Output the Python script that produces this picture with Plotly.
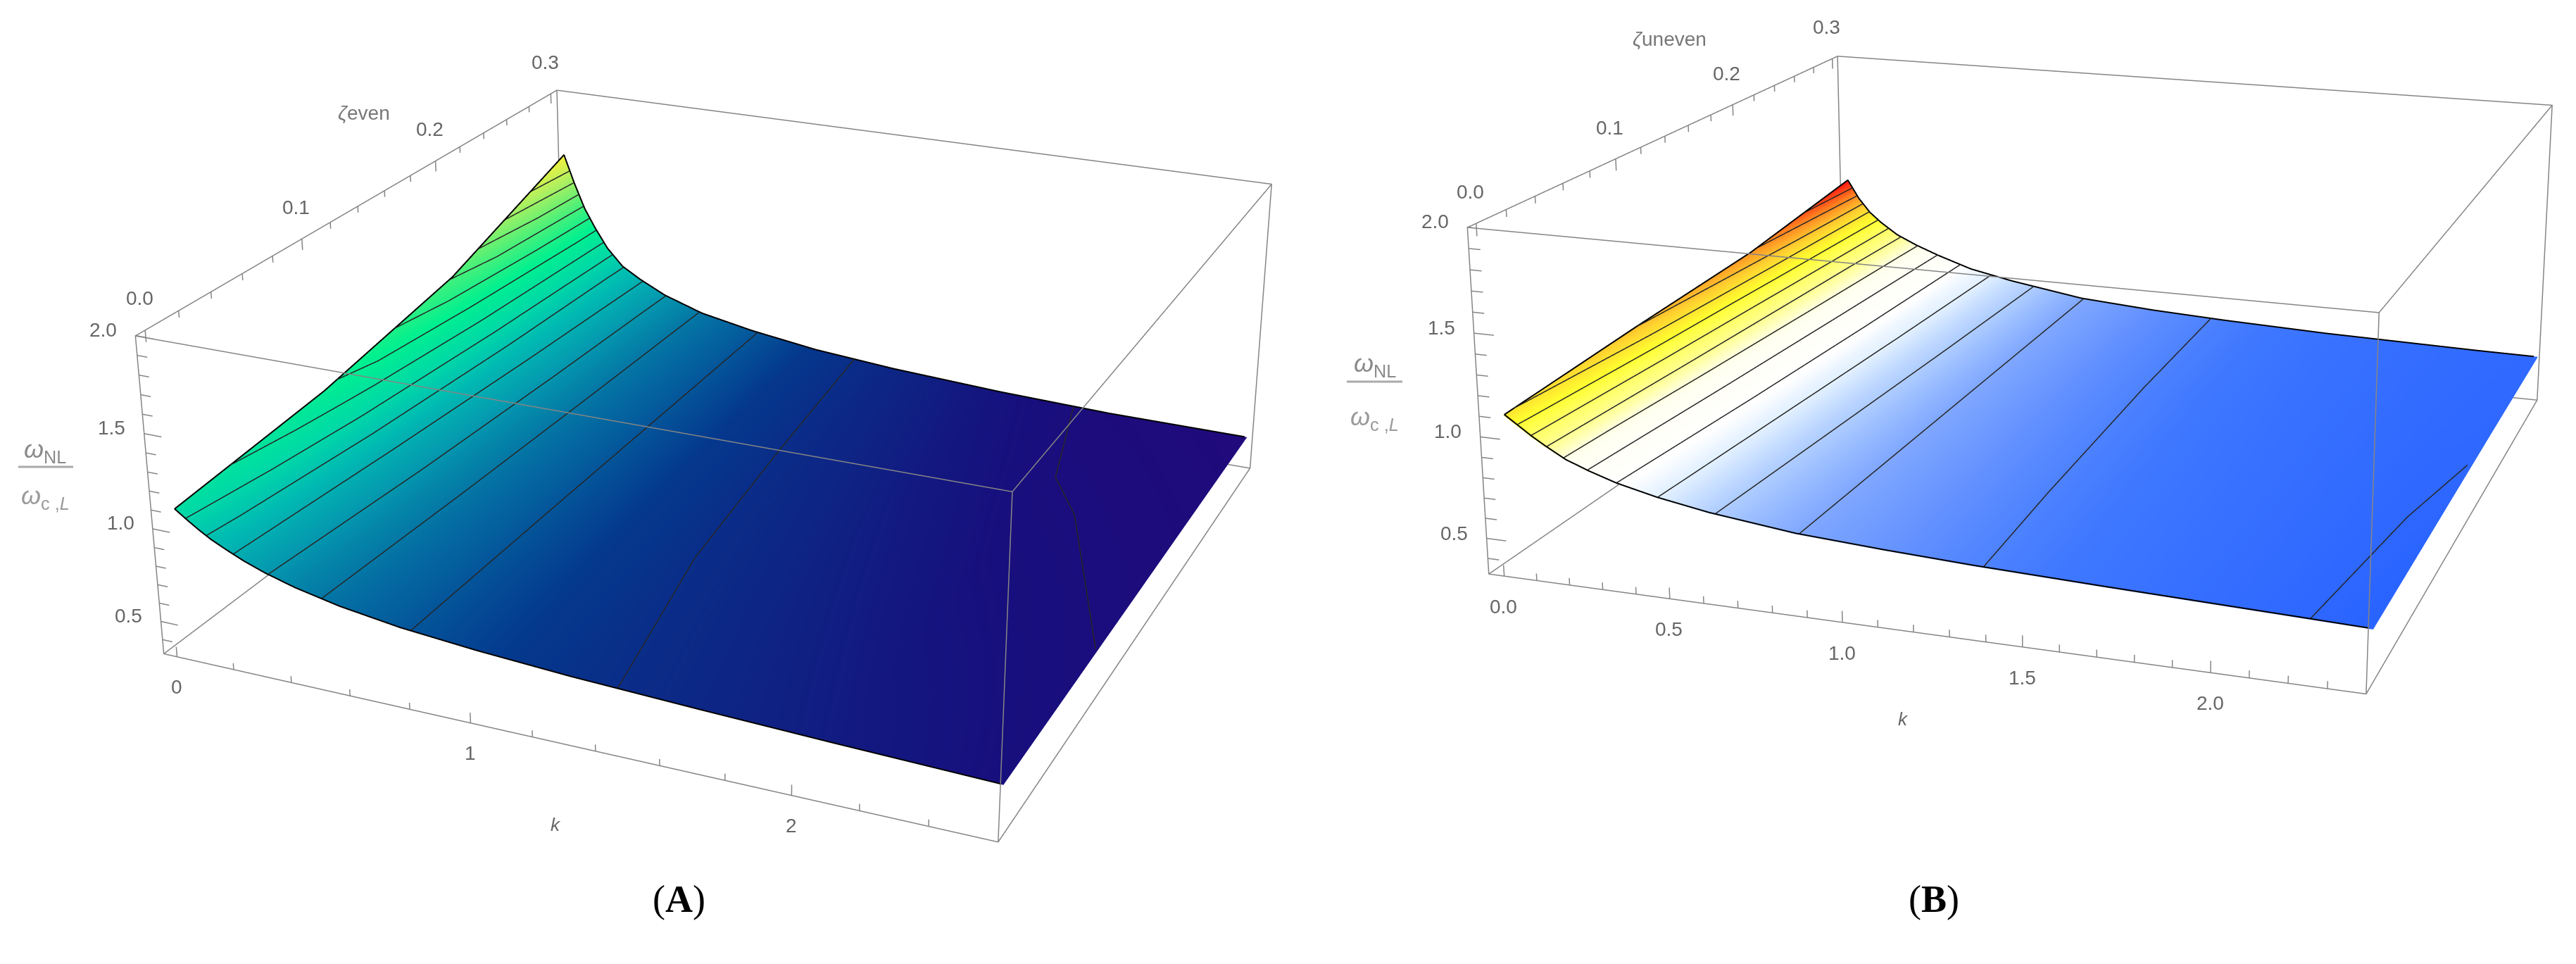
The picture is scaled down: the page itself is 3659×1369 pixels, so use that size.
"""Two 3D surfaces of the frequency ratio against k and zeta, panels (A) and (B)."""

import plotly.graph_objects as go

# ── Panel A values ────────────────────────────────────────────────────────────
k_a = [0, 0.04, 0.08, 0.12, 0.17, 0.23, 0.3, 0.4, 0.55, 0.75, 1, 1.3, 1.7, 2.1, 2.59]
zeta_a = [0, 0.1, 0.2, 0.3]
z_a_0 = [1.085, 1.04, 0.998, 0.96, 0.922, 0.88, 0.84, 0.795, 0.745, 0.70, 0.665, 0.635, 0.608, 0.585, 0.562]
z_a_1 = [1.17, 1.145, 1.095, 1.04, 0.975, 0.913, 0.865, 0.81, 0.75, 0.70, 0.658, 0.625, 0.595, 0.57, 0.555]
z_a_2 = [1.33, 1.27, 1.19, 1.12, 1.03, 0.947, 0.89, 0.824, 0.755, 0.70, 0.652, 0.615, 0.582, 0.558, 0.548]
z_a_3 = [1.63, 1.46, 1.31, 1.20, 1.08, 0.98, 0.915, 0.838, 0.76, 0.70, 0.645, 0.605, 0.57, 0.548, 0.541]
k_range_a = [-0.05, 2.6]
k_major_a = [0, 1, 2]
k_minor_a = [0.2, 0.4, 0.6, 0.8, 1.2, 1.4, 1.6, 1.8, 2.2, 2.4]
levels_a = [0.555, 0.625, 0.695, 0.765, 0.835, 0.905, 0.975, 1.045, 1.115, 1.185, 1.255, 1.325, 1.395, 1.465, 1.535]

# ── Panel B values ────────────────────────────────────────────────────────────
k_b = [0, 0.04, 0.08, 0.12, 0.18, 0.25, 0.33, 0.45, 0.6, 0.85, 1.1, 1.35, 1.7, 2.2, 2.4]
zeta_b = [0, 0.1, 0.2, 0.3]
z_b_0 = [1.09, 1.045, 1.00, 0.96, 0.905, 0.862, 0.82, 0.775, 0.733, 0.685, 0.66, 0.64, 0.62, 0.595, 0.585]
z_b_1 = [1.14, 1.088, 1.03, 0.985, 0.926, 0.88, 0.835, 0.783, 0.738, 0.685, 0.658, 0.638, 0.618, 0.597, 0.59]
z_b_2 = [1.18, 1.125, 1.06, 1.01, 0.947, 0.897, 0.85, 0.792, 0.744, 0.685, 0.656, 0.636, 0.616, 0.599, 0.595]
z_b_3 = [1.275, 1.169, 1.09, 1.035, 0.968, 0.915, 0.865, 0.80, 0.75, 0.685, 0.655, 0.635, 0.615, 0.60, 0.597]
k_range_b = [-0.05, 2.4]
k_major_b = [0, 0.5, 1, 1.5, 2]
k_minor_b = [0.1, 0.2, 0.3, 0.4, 0.6, 0.7, 0.8, 0.9, 1.1, 1.2, 1.3, 1.4, 1.6, 1.7, 1.8, 1.9, 2.1, 2.2, 2.3]
levels_b = [0.593, 0.6385, 0.684, 0.7295, 0.775, 0.8205, 0.866, 0.9115, 0.957, 1.0025, 1.048, 1.0935, 1.139, 1.1845, 1.23]

# ── Shared axis values ────────────────────────────────────────────────────────
zeta_range = [-0.006, 0.306]
z_range = [0.32, 2.0]
zeta_major = [0, 0.1, 0.2, 0.3]
zeta_minor = [0.02, 0.04, 0.06, 0.08, 0.12, 0.14, 0.16, 0.18, 0.22, 0.24, 0.26, 0.28]
z_major = [0.5, 1.0, 1.5, 2.0]
z_minor = [0.4, 0.6, 0.7, 0.8, 0.9, 1.1, 1.2, 1.3, 1.4, 1.6, 1.7, 1.8, 1.9]

colors_a = [
    [0.0, "#200a7c"], [0.02, "#170f7d"], [0.055, "#0e2484"], [0.106, "#043a8e"],
    [0.148, "#045a9c"], [0.2, "#0474a4"], [0.287, "#049cb0"], [0.38, "#00bdb2"],
    [0.47, "#00d8a8"], [0.61, "#00f090"], [0.75, "#50f078"], [0.89, "#b0f060"],
    [1.0, "#f0f040"],
]
colors_b = [
    [0.0, "#2a64ff"], [0.06, "#3f78ff"], [0.11, "#6a96ff"], [0.2, "#a8c8ff"],
    [0.27, "#e0efff"], [0.33, "#ffffff"], [0.46, "#fffff0"], [0.53, "#ffff99"],
    [0.68, "#ffff30"], [0.78, "#ffd030"], [0.89, "#ff8020"], [1.0, "#ff1010"],
]

eye_a = (1.267, -2.882, 1.344)
eye_b = (1.049, -3.047, 0.958)
aspect_a = (1.001, 1, 0.389)
aspect_b = (0.996, 1, 0.398)

WIN_H = 1369
FIG_W = 3800
FIG_H = 3500
TOP = 1200  # hidden strip above the window: the narrow lens needs a very tall scene
GRAY = "#858585"
TEXT = "#666666"
FONT = "Liberation Sans"


def px(x):
    return x / FIG_W


def py(y):
    return 1 - (y + TOP) / FIG_H


def scene_domain(cx, cy, half_w, half_h):
    return dict(x=[px(cx - half_w), px(cx + half_w)], y=[py(cy + half_h), py(cy - half_h)])


def inset(r):
    # 3D lines exactly on the axis range get clipped away, keep them just inside
    pad = (r[1] - r[0]) * 0.001
    return [r[0] + pad, r[1] - pad]


def box_path(kr):
    # one unbroken walk over all 12 edges
    k0, k1 = inset(kr)
    y0, y1 = inset(zeta_range)
    z0, z1 = inset(z_range)
    return [(k0, y0, z0), (k1, y0, z0), (k1, y1, z0), (k0, y1, z0), (k0, y0, z0),
            (k0, y0, z1), (k1, y0, z1), (k1, y1, z1), (k0, y1, z1), (k0, y0, z1),
            (k1, y0, z1), (k1, y0, z0), (k1, y1, z0), (k1, y1, z1), (k0, y1, z1), (k0, y1, z0)]


def tick_path(majors, minors, major_size, minor_size, point):
    path = []
    for t in sorted(majors + minors):
        size = major_size if t in majors else minor_size
        path += [point(t, 0), point(t, size), point(t, 0)]
    return path


def contour_path(ks, zetas, rows, level):
    # marching over the table cells, chained from the lowest zeta row upwards
    level = level + 1e-5  # a level equal to a table value would lose its cells
    segments = []
    for j in range(len(zetas) - 1):
        for i in range(len(ks) - 1):
            corners = [(ks[i], zetas[j], rows[j][i]), (ks[i + 1], zetas[j], rows[j][i + 1]),
                       (ks[i + 1], zetas[j + 1], rows[j + 1][i + 1]), (ks[i], zetas[j + 1], rows[j + 1][i])]
            cuts = []
            for a, b in zip(corners, corners[1:] + corners[:1]):
                if (a[2] - level) * (b[2] - level) < 0:
                    t = (level - a[2]) / (b[2] - a[2])
                    cuts.append((a[0] + t * (b[0] - a[0]), a[1] + t * (b[1] - a[1]), level))
            if len(cuts) == 2:
                segments.append(cuts)
    if not segments:
        return []
    first = min(segments, key=lambda s: min(s[0][1], s[1][1]))
    segments.remove(first)
    path = sorted(first, key=lambda p: p[1])
    while segments:
        seg = min(segments, key=lambda s: min(abs(s[0][0] - path[-1][0]) + abs(s[0][1] - path[-1][1]),
                                              abs(s[1][0] - path[-1][0]) + abs(s[1][1] - path[-1][1])))
        segments.remove(seg)
        d0 = abs(seg[0][0] - path[-1][0]) + abs(seg[0][1] - path[-1][1])
        d1 = abs(seg[1][0] - path[-1][0]) + abs(seg[1][1] - path[-1][1])
        path.append(seg[1] if d0 <= d1 else seg[0])
    return path


def toward_eye(path, kr, eye, aspect, amount=0.008):
    # slide a line along the view ray so it clears the surface without moving on screen
    ranges = (kr, zeta_range, z_range)
    eye_data = [(e / a + 0.5) * (r[1] - r[0]) + r[0] for e, a, r in zip(eye, aspect, ranges)]
    lows = [inset(r)[0] for r in ranges]
    highs = [inset(r)[1] for r in ranges]
    return [tuple(min(max(c + amount * (e - c), lo), hi) for c, e, lo, hi in zip(p, eye_data, lows, highs))
            for p in path]


def add_path(fig, scene, path, color, width):
    fig.add_trace(go.Scatter3d(x=[p[0] for p in path], y=[p[1] for p in path], z=[p[2] for p in path],
                               mode="lines", scene=scene, line=dict(color=color, width=width),
                               hoverinfo="skip", showlegend=False))


def tick_label(x, y, z, text, xshift=0, yshift=0):
    return dict(x=x, y=y, z=z, text=text, showarrow=False, xshift=xshift, yshift=yshift,
                font=dict(family=FONT, size=28, color=TEXT))


def make_panel(fig, scene, ks, zetas, rows, kr, k_major, k_minor, colors, cmin, cmax, levels, eye, aspect):
    fig.add_trace(go.Surface(
        x=ks, y=zetas, z=rows, scene=scene, colorscale=colors, cmin=cmin, cmax=cmax,
        showscale=False, hoverinfo="skip",
        lighting=dict(ambient=1, diffuse=0, specular=0, roughness=1, fresnel=0),
        contours=dict(x=dict(highlight=False), y=dict(highlight=False), z=dict(highlight=False)),
    ))
    k0 = inset(kr)[0]
    y0 = inset(zeta_range)[0]
    z0, z1 = inset(z_range)
    add_path(fig, scene, box_path(kr), GRAY, 3)
    add_path(fig, scene, tick_path(k_major, k_minor, 0.055, 0.035, lambda t, s: (t, y0, z0 + s)), GRAY, 3)
    add_path(fig, scene, tick_path(z_major, z_minor, 0.06, 0.035, lambda t, s: (k0 + s, y0, t)), GRAY, 3)
    add_path(fig, scene, tick_path(zeta_major, zeta_minor, 0.06, 0.035, lambda t, s: (k0, t, z1 - s)), GRAY, 3)
    for level in levels:
        path = contour_path(ks, zetas, rows, level)
        add_path(fig, scene, toward_eye(path, kr, eye, aspect), "#262626", 3)
    outline = [(k, zetas[-1], z) for k, z in zip(ks, rows[-1])][::-1]
    outline += [(ks[0], y, r[0]) for y, r in zip(zetas[::-1], rows[::-1])]
    outline += [(k, zetas[0], z) for k, z in zip(ks, rows[0])]
    add_path(fig, scene, toward_eye(outline, kr, eye, aspect), "#000000", 4)


def scene_layout(domain, kr, k_major, k_labels, eye, aspect):
    hidden = dict(visible=False, showbackground=False, showgrid=False, zeroline=False,
                  showspikes=False, autorange=False)
    labels = [tick_label(k, zeta_range[0], z_range[0], t, yshift=-42) for k, t in zip(k_major, k_labels)]
    labels += [tick_label(kr[0], zeta_range[0], z, f"{z:.1f}", xshift=-44, yshift=8) for z in z_major]
    labels += [tick_label(kr[0], y, z_range[1], f"{y:.1f}", xshift=-7, yshift=44) for y in zeta_major]
    return dict(
        domain=domain,
        xaxis=dict(range=kr, **hidden),
        yaxis=dict(range=zeta_range, **hidden),
        zaxis=dict(range=z_range, **hidden),
        aspectmode="manual",
        aspectratio=dict(x=aspect[0], y=aspect[1], z=aspect[2]),
        camera=dict(eye=dict(x=eye[0], y=eye[1], z=eye[2]),
                    center=dict(x=0, y=0, z=0), up=dict(x=0, y=0, z=1),
                    projection=dict(type="perspective")),
        bgcolor="rgba(0,0,0,0)",
        annotations=labels,
    )


def paper_text(x, y, text, size=28, color=TEXT, family=FONT):
    return dict(x=px(x), y=py(y), xref="paper", yref="paper", text=text, showarrow=False,
                xanchor="center", yanchor="middle", font=dict(family=family, size=size, color=color))


fig = go.Figure()
make_panel(fig, "scene", k_a, zeta_a, [z_a_0, z_a_1, z_a_2, z_a_3], k_range_a, k_major_a, k_minor_a,
           colors_a, 0.54, 1.62, levels_a, eye_a, aspect_a)
make_panel(fig, "scene2", k_b, zeta_b, [z_b_0, z_b_1, z_b_2, z_b_3], k_range_b, k_major_b, k_minor_b,
           colors_b, 0.585, 1.275, levels_b, eye_b, aspect_b)

fig.update_layout(
    width=FIG_W,
    height=FIG_H,
    autosize=False,
    margin=dict(l=0, r=0, t=0, b=0),
    paper_bgcolor="white",
    showlegend=False,
    scene=scene_layout(scene_domain(1056.0, 579.1, 1000, 1691.4), k_range_a, k_major_a,
                       ["0", "1", "2"], eye_a, aspect_a),
    scene2=scene_layout(scene_domain(2923.7, 458.7, 875, 1654.7), k_range_b, k_major_b,
                        ["0.0", "0.5", "1.0", "1.5", "2.0"], eye_b, aspect_b),
    annotations=[
        paper_text(517, 161, "<i>ζ</i>even", 28, "#777777"),
        paper_text(2371, 55, "<i>ζ</i>uneven", 28, "#777777"),
        paper_text(789, 1171, "<i>k</i>", 26),
        paper_text(2703, 1021, "<i>k</i>", 26),
        paper_text(64, 640, "<i>ω</i><sub>NL</sub>", 36, "#8a8a8a"),
        paper_text(64, 706, "<i>ω</i><sub>c ,<i>L</i></sub>", 36, "#9a9a9a"),
        paper_text(1953, 518, "<i>ω</i><sub>NL</sub>", 36, "#8a8a8a"),
        paper_text(1953, 594, "<i>ω</i><sub>c ,<i>L</i></sub>", 36, "#9a9a9a"),
        paper_text(964, 1277, "(<b>A</b>)", 54, "#000000", "Liberation Serif"),
        paper_text(2747, 1277, "(<b>B</b>)", 54, "#000000", "Liberation Serif"),
    ],
    shapes=[
        dict(type="line", xref="paper", yref="paper", x0=px(26), x1=px(104), y0=py(663), y1=py(663),
             line=dict(color="#aaaaaa", width=3)),
        dict(type="line", xref="paper", yref="paper", x0=px(1913), x1=px(1992), y0=py(542), y1=py(542),
             line=dict(color="#aaaaaa", width=3)),
    ],
)

# The page window only shows the 1369 px strip that starts TOP px down the figure.
shift = f"""
var gd = document.getElementById('{{plot_id}}');
document.documentElement.style.overflow = 'hidden';
document.body.style.margin = '0';
document.body.style.height = '{WIN_H}px';
document.body.style.overflow = 'hidden';
gd.style.position = 'absolute';
gd.style.left = '0px';
gd.style.top = '-{TOP}px';
"""
fig.write_html("out.html", post_script=shift)
